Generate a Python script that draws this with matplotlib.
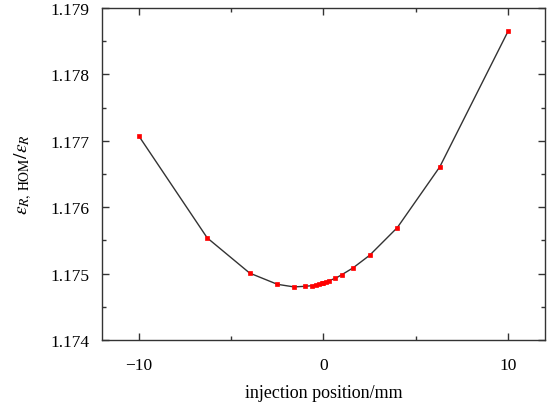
import matplotlib
matplotlib.use("Agg")
import matplotlib.pyplot as plt
from matplotlib.ticker import MultipleLocator

x_pos = [-10, -6.3, -4, -2.5, -1.6, -1, -0.6, -0.4, -0.25, -0.1, 0, 0.15, 0.3, 0.65,
         1, 1.6, 2.5, 4, 6.3, 10]
ratio = [1.17707, 1.175538, 1.175008, 1.174839, 1.174800, 1.174809, 1.174819, 1.174834,
         1.174845, 1.174854, 1.174864, 1.174880, 1.174895, 1.174929, 1.174985, 1.175086,
         1.175276, 1.175693, 1.176607, 1.178649]
xticks = [-10, 0, 10]
yticks = [1.174, 1.175, 1.176, 1.177, 1.178, 1.179]

plt.rcParams['font.family'] = ['Liberation Serif', 'DejaVu Serif']
plt.rcParams['mathtext.fontset'] = 'stix'

fig = plt.figure(figsize=(5.47, 4.06), dpi=100)
ax = fig.add_axes([0.1865, 0.160, 0.8098, 0.818])
ax.plot(x_pos, ratio, color='#333333', lw=1.0, marker='s', markersize=3.2,
        markerfacecolor='red', markeredgecolor='red', markeredgewidth=0.5)
ax.set_xlim(-12, 12)
ax.set_ylim(1.174, 1.179)
ax.set_xticks(xticks)
ax.set_xticklabels(['\u221210', '0', '10'])
ax.set_yticks(yticks)
ax.set_yticklabels([f'{v:.3f}' for v in yticks])
ax.xaxis.set_minor_locator(MultipleLocator(5))
ax.yaxis.set_minor_locator(MultipleLocator(0.0005))
ax.tick_params(which='both', direction='in', top=True, right=True, labelsize=12.5,
               color='#333333', width=1.0)
ax.tick_params(which='major', length=5)
ax.tick_params(axis='x', which='major', pad=12)
ax.tick_params(axis='y', which='major', pad=9)
ax.tick_params(which='minor', length=3)
for s in ax.spines.values():
    s.set_color('#333333')
    s.set_linewidth(1.0)
ax.set_xlabel('injection position/mm', fontsize=13, labelpad=8)
ax.set_ylabel(r'$\varepsilon_{R,\,\mathrm{HOM}}/\varepsilon_R$', fontsize=14, labelpad=12)
fig.savefig('out.png', dpi=100)
